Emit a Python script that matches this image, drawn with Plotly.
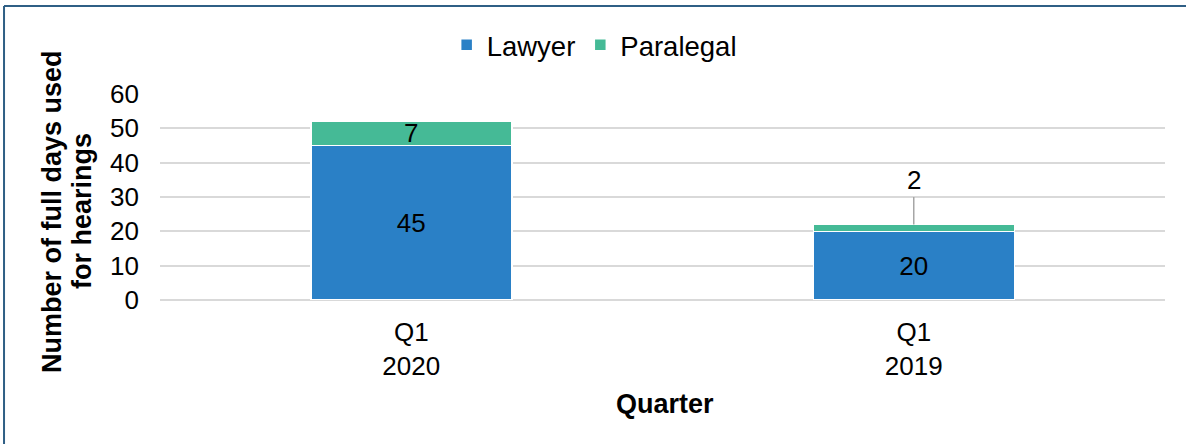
import plotly.graph_objects as go

categories = ["Q1<br>2020", "Q1<br>2019"]
lawyer = [45, 20]
paralegal = [7, 2]
y_ticks = [0, 10, 20, 30, 40, 50, 60]
y_title_lines = ["Number of full days used", "for hearings"]
x_title = "Quarter"

BLUE = "#2A80C6"
GREEN = "#45BA96"
FONT = "Liberation Sans, Arial, sans-serif"
TS = 26

fig = go.Figure()
fig.add_trace(go.Bar(
    name="Lawyer", x=categories, y=lawyer, marker=dict(color=BLUE, line=dict(color="white", width=1.5)),
    text=[str(v) for v in lawyer], textposition="inside", insidetextanchor="middle",
    textfont=dict(size=TS, color="black", family=FONT), width=0.4,
))
fig.add_trace(go.Bar(
    name="Paralegal", x=categories, y=paralegal, marker=dict(color=GREEN, line=dict(color="white", width=1.5)),
    width=0.4, hoverinfo="y",
))

# Paralegal data labels
for i, (c, l, p) in enumerate(zip(categories, lawyer, paralegal)):
    if i == 0:
        fig.add_annotation(x=c, y=l + p / 2, text=str(p), showarrow=False,
                           font=dict(size=TS, color="black", family=FONT))
    else:
        fig.add_annotation(x=c, y=l + p, text=str(p), showarrow=True, arrowhead=0,
                           arrowwidth=1.5, arrowcolor="#A6A6A6", ax=0, ay=-44, standoff=0,
                           font=dict(size=TS, color="black", family=FONT))

# Y axis title (two lines, rotated)
for xp, line in zip([-0.1075, -0.0776], y_title_lines):
    fig.add_annotation(xref="paper", yref="paper", x=xp, y=0.432, text="<b>%s</b>" % line,
                       textangle=-90, showarrow=False, xanchor="center", yanchor="middle",
                       font=dict(size=27, color="black", family=FONT))

# X axis title
fig.add_annotation(xref="paper", yref="paper", x=0.502, y=-0.505, text="<b>%s</b>" % x_title,
                   showarrow=False, xanchor="center", yanchor="middle",
                   font=dict(size=27, color="black", family=FONT))

# Border lines (top and left)
fig.add_shape(type="line", xref="paper", yref="paper", x0=-0.1552, x1=1.03, y0=1.427, y1=1.427,
              line=dict(color="#2F5F85", width=2))
fig.add_shape(type="line", xref="paper", yref="paper", x0=-0.1552, x1=-0.1552, y0=1.427, y1=-0.75,
              line=dict(color="#2F5F85", width=2))

fig.update_layout(
    barmode="stack",
    width=1186, height=444,
    margin=dict(l=160, r=21, t=94, b=144, autoexpand=False),
    plot_bgcolor="white", paper_bgcolor="white",
    font=dict(family=FONT, size=TS, color="black"),
    legend=dict(orientation="h", x=0.432, xanchor="center", y=1.238, yanchor="middle",
                font=dict(size=27.5, family=FONT), traceorder="normal", bgcolor="rgba(0,0,0,0)"),
    showlegend=True,
)
fig.update_xaxes(tickfont=dict(size=TS, family=FONT), showline=False, ticks="", ticklabelstandoff=14)
fig.update_yaxes(
    range=[0, 60], tickvals=y_ticks, tickfont=dict(size=TS, family=FONT),
    showgrid=True, gridcolor="#D9D9D9", gridwidth=1.5, zeroline=True, zerolinecolor="#D9D9D9", zerolinewidth=1.5,
    ticks="", ticklabelstandoff=20,
)

fig.write_html("out.html", config={"displayModeBar": False},
               post_script="document.body.style.margin='0';document.body.style.padding='0';")
